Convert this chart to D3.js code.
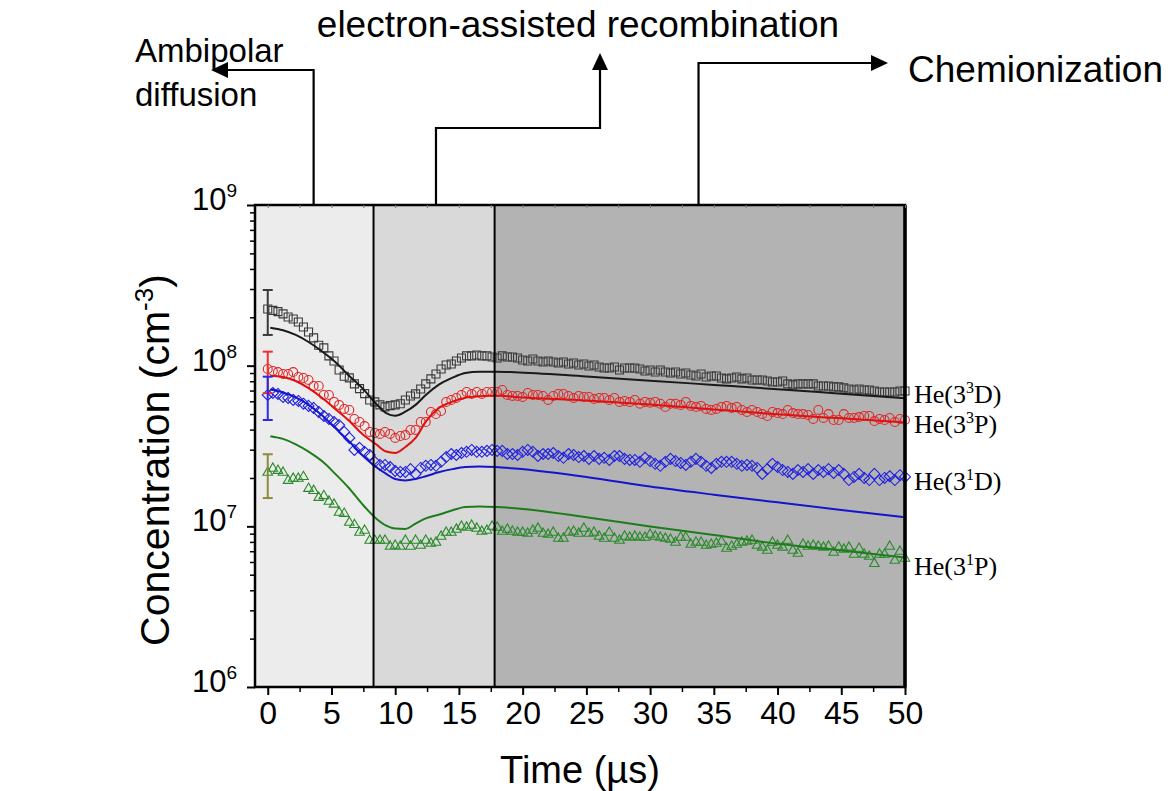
<!DOCTYPE html>
<html lang="en">
<head>
<meta charset="UTF-8">
<title>He excited states</title>
<script src="https://d3js.org/d3.v7.min.js"></script>
<style>
  body { margin: 0; background: #fff; }
  text { font-family: "Liberation Sans", Arial, sans-serif; fill: #000; }
</style>
</head>
<body>
<div id="container"></div>
<script>
const W = 1168, H = 791;
const unit = 1e6;        // all densities below are in 1e6 cm^-3
const tStep = 0.4;       // spacing of the measured points (µs)

// measured points, He(3^3D) squares
const sq3D = [225.4, 221, 217, 210, 201, 195, 187, 174, 162, 149, 134, 129, 115, 107, 94.0, 86, 84, 77, 72, 67, 61.2, 59.5, 57,
  55.4, 56.4, 57.0, 58.0, 61.2, 64.8, 66.7, 71.6, 77.0, 82.7, 88.8, 95.4, 101, 102.5, 107, 111.7, 115, 115, 116.5, 115, 115, 113.2, 111.7, 115, 113.2,
  113.2, 111.7, 108.5, 107, 110.1, 107, 105.5, 107, 105.5, 104, 105.5, 102.5, 104, 101, 102.5, 99.6, 101, 98.2, 96.8, 96.8, 98.2, 94, 96.8, 96.8, 96.8,
  95.4, 92.7, 94, 91.3, 94, 91.3, 90, 91.3, 88.8, 90, 87.5, 86.3, 88.8, 85, 86.3, 86.3, 83.8, 82.7, 83.8, 85, 82.7, 83.8, 81.5, 81.5, 81.5, 80.3,
  79.2, 79.2, 80.3, 77, 75.9, 77, 77, 77, 77, 74.8, 74.8, 74.8, 73.8, 73.8, 72.7, 71.6, 70.6, 71.6, 70.6, 70.6, 69.6, 68.6, 68.6, 68.6, 68.6, 69.6, 69.6];
// He(3^3P) circles
const ci3P = [95.4, 92.7, 91.3, 88.8, 88.8, 91.3, 85.0, 83.8, 81.5, 74.8, 74.8, 65.7, 65.7, 59.5, 57.0, 53.8, 53.0, 46.6, 44.6, 42.1, 38.7, 38.1, 37.6, 38.7,
  37.6, 35.5, 36.5, 37.0, 39.8, 39.8, 44.6, 44.6, 51.5, 50.0, 52.2, 59.5, 61.2, 63.0, 65.7, 68.6, 66.7, 68.6, 66.7, 68.6, 68.6, 68.6, 70.6, 65.7, 64.8,
  64.8, 63.9, 67.6, 65.7, 65.7, 64.8, 61.2, 64.8, 66.7, 66.7, 64.8, 63.0, 64.8, 63.9, 63.9, 62.1, 63.0, 63.0, 61.2, 63.0, 59.5, 60.3, 59.5, 61.2, 58.0,
  59.5, 58.8, 59.5, 58.0, 55.4, 58.0, 58.0, 57.0, 59.5, 56.2, 55.4, 56.2, 53.8, 53.0, 53.8, 55.4, 56.2, 54.6, 55.4, 53.0, 51.5, 53.0, 51.5, 50.0, 48.6, 51.5,
  50.7, 50.0, 53.0, 50.7, 50.0, 50.0, 49.3, 46.6, 53.0, 47.3, 50.0, 45.9, 45.9, 50.0, 47.3, 47.3, 47.9, 48.6, 48.6, 45.2, 46.6, 45.9, 47.3, 44.6, 46.6, 45.9];
// He(3^1D) diamonds
const di1D = [65.7, 67.6, 66.7, 63.9, 63.0, 61.2, 60.3, 58.0, 56.2, 54.6, 51.5, 48.6, 46.6, 44.6, 42.7, 38.7, 35.5, 29.9, 30.8, 29.1, 27.8, 25.2, 24.1, 24.1,
  23.4, 22.1, 21.8, 21.8, 22.7, 21.2, 23.1, 23.8, 24.1, 23.8, 25.2, 27.0, 28.2, 27.8, 28.6, 29.1, 29.9, 29.1, 29.1, 29.5, 29.9, 29.5, 29.5, 28.2, 28.2,
  27.8, 29.1, 29.9, 29.1, 27.4, 28.2, 28.2, 28.6, 27.4, 26.7, 28.2, 27.8, 27.0, 27.4, 26.3, 27.4, 26.3, 26.7, 25.9, 27.4, 27.4, 26.3, 25.9, 25.9, 25.2, 26.7,
  25.5, 24.5, 23.8, 25.2, 26.3, 25.5, 24.8, 24.1, 25.2, 26.3, 25.2, 23.8, 23.1, 24.5, 25.2, 25.2, 25.2, 24.5, 23.8, 24.1, 23.8, 23.1, 21.2, 22.7, 24.5,
  23.4, 22.4, 21.8, 21.2, 22.4, 21.8, 22.7, 21.2, 22.4, 21.8, 22.7, 21.5, 22.4, 21.2, 19.4, 20.3, 21.2, 20.0, 19.4, 21.2, 19.4, 20.0, 20.5, 19.4, 20.8, 20.3];
// He(3^1P) triangles
const tr1P = [21.8, 23.1, 22.4, 21.8, 19.4, 20.0, 20.0, 20.5, 17.3, 16.8, 15.2, 15.6, 14.4, 13.8, 12.3, 12.1, 10.65, 10.3, 9.23, 9.50, 8.23, 8.23, 8.23,
  8.23, 7.55, 7.66, 7.55, 8.23, 7.55, 8.23, 7.66, 8.23, 7.88, 8.0, 8.72, 9.23, 9.23, 9.64, 10.06, 9.92, 10.2, 9.78, 9.36, 9.50, 10.06, 9.92, 9.36, 9.64,
  9.36, 9.23, 9.23, 9.10, 9.50, 9.78, 9.10, 8.97, 9.23, 8.47, 8.47, 9.23, 9.36, 9.10, 9.78, 9.10, 9.23, 8.72, 8.47, 9.23, 8.47, 8.23, 8.72, 8.59, 8.72, 8.59,
  8.59, 8.97, 8.72, 8.59, 8.47, 8.35, 8.0, 8.59, 8.59, 7.77, 8.0, 8.0, 7.66, 7.77, 7.88, 8.11, 7.34, 7.55, 7.77, 8.0, 8.11, 8.23, 7.66, 7.45, 7.13, 8.0,
  7.66, 7.45, 8.23, 7.13, 6.83, 7.77, 7.55, 7.66, 7.55, 7.45, 7.55, 6.93, 7.45, 7.23, 7.45, 6.73, 7.34, 6.73, 6.54, 5.90, 6.73, 6.73, 7.55, 6.18, 7.03, 6.36];

// model curves
const fitTime = [0.2, 1.2, 2.2, 3.2, 4.3, 5.3, 6.4, 7.4, 8.5, 9.3, 10.0, 10.8, 11.6, 12.4, 13.4, 14.5, 15.5, 16.6, 17.9, 19.4, 25, 30, 35, 40, 45, 50];
const fit3D = [172.4, 166.1, 155.3, 140.4, 122.2, 105.4, 86.3, 72.7, 58.0, 50.7, 48.8, 51.7, 57.0, 65.7, 75.9, 84.2, 90.0, 91.7, 91.7, 91.0, 85.6, 80.7, 75.9, 71.4, 66.9, 62.7];
const fit3P = [86.6, 85.0, 80.3, 72.4, 62.7, 53.8, 45.2, 37.7, 32.4, 29.2, 28.6, 31.2, 35.5, 44.8, 54.3, 59.7, 63.2, 64.5, 65.1, 63.9, 60.8, 57.4, 53.4, 49.8, 47.0, 44.4];
const fit1D = [71.1, 68.1, 63.4, 57.0, 48.8, 40.9, 33.7, 27.8, 23.4, 21.2, 19.7, 19.3, 19.7, 20.5, 21.7, 22.7, 23.4, 23.6, 23.4, 22.9, 20.3, 17.7, 15.75, 14.1, 12.65, 11.4];
const fit1P = [36.4, 35.0, 32.4, 29.2, 25.3, 21.2, 17.2, 13.8, 11.2, 10.1, 9.70, 9.64, 10.4, 11.2, 11.8, 12.6, 13.2, 13.3, 13.2, 12.96, 11.4, 9.99, 8.84, 7.80, 7.08, 6.39];

// error bars at t = 0 (low, high)
const errLow  = [155.3, 67.4, 45.9, 15.0];
const errHigh = [295.8, 122.2, 85.4, 28.1];

const labelNames = ["3D", "3P", "1D", "1P"];
const labelAt = [66, 42.7, 18.8, 5.6];

// time windows of the three loss processes
const regionEdges = [-1.0, 8.3, 17.8, 50];
const processes = ["Ambipolar diffusion", "electron-assisted recombination", "Chemionization"];
const arrowAt = [3.6, 13.2, 33.8];

const xTicks = d3.range(0, 51, 5);
const yTicks = [1e6, 1e7, 1e8, 1e9];

// ---- drawing ----
const svg = d3.select("#container").append("svg").attr("width", W).attr("height", H);

const x = d3.scaleLinear().domain([-1.0, 50]).range([255, 905]);
const y = d3.scaleLog().domain([1e6, 1e9]).range([687, 205]);
const yTop = y.range()[1], yBot = y.range()[0];

const bgFill = ["#ececec", "#d9d9d9", "#b3b3b3"];
svg.selectAll("rect.bg").data(bgFill).enter().append("rect")
  .attr("x", (d, i) => x(regionEdges[i]))
  .attr("y", yTop)
  .attr("width", (d, i) => x(regionEdges[i + 1]) - x(regionEdges[i]))
  .attr("height", yBot - yTop)
  .attr("fill", d => d);

const series = [
  {vals: sq3D, fit: fit3D, mark: "#3a3a3a", line: "#1a1a1a", err: "#3a3a3a", shape: "square"},
  {vals: ci3P, fit: fit3P, mark: "#e02828", line: "#e01010", err: "#ee3030", shape: "circle"},
  {vals: di1D, fit: fit1D, mark: "#2222e0", line: "#1515cc", err: "#2a2ae6", shape: "diamond"},
  {vals: tr1P, fit: fit1P, mark: "#2a8a2a", line: "#1d7d1d", err: "#8c8c3a", shape: "triangle"}
];

const shapePath = {
  square: "M-4,-4H4V4H-4Z",
  circle: d3.symbol(d3.symbolCircle, 62)(),
  diamond: "M0,-5.5L5.5,0L0,5.5L-5.5,0Z",
  triangle: "M0,-5L4.8,3.3H-4.8Z"
};

const lineGen = d3.line()
  .x(d => x(d[0]))
  .y(d => y(d[1] * unit))
  .curve(d3.curveMonotoneX);

series.forEach(s => {
  const g = svg.append("g");
  g.selectAll("path.pt").data(s.vals).enter().append("path")
    .attr("d", shapePath[s.shape])
    .attr("transform", (d, i) => `translate(${x(i * tStep)},${y(d * unit)})`)
    .attr("fill", "none")
    .attr("stroke", s.mark)
    .attr("stroke-width", 1.1);
});

series.forEach(s => {
  svg.append("path")
    .datum(fitTime.map((t, i) => [t, s.fit[i]]))
    .attr("d", lineGen)
    .attr("fill", "none")
    .attr("stroke", s.line)
    .attr("stroke-width", 2);
});

// error bars
series.forEach((s, i) => {
  const g = svg.append("g").attr("stroke", s.err).attr("stroke-width", 2);
  const cx = x(0), y0 = y(errLow[i] * unit), y1 = y(errHigh[i] * unit);
  g.append("line").attr("x1", cx).attr("x2", cx).attr("y1", y0).attr("y2", y1);
  g.append("line").attr("x1", cx - 5).attr("x2", cx + 5).attr("y1", y0).attr("y2", y0);
  g.append("line").attr("x1", cx - 5).attr("x2", cx + 5).attr("y1", y1).attr("y2", y1);
});

// separators
svg.selectAll("line.sep").data(regionEdges.slice(1, 3)).enter().append("line")
  .attr("x1", d => x(d)).attr("x2", d => x(d))
  .attr("y1", yTop).attr("y2", yBot)
  .attr("stroke", "#000").attr("stroke-width", 2);

// frame
svg.append("rect")
  .attr("x", x(-1.0)).attr("y", yTop)
  .attr("width", x(50) - x(-1.0)).attr("height", yBot - yTop)
  .attr("fill", "none").attr("stroke", "#000").attr("stroke-width", 2.5);
svg.append("line")
  .attr("x1", x(50)).attr("x2", x(50)).attr("y1", yTop).attr("y2", yBot)
  .attr("stroke", "#000").attr("stroke-width", 3.5);

// x axis
const xAxis = d3.axisBottom(x).tickValues(xTicks).tickSize(8).tickPadding(6).tickFormat(d3.format("d"));
const gx = svg.append("g").attr("transform", `translate(0,${yBot})`).call(xAxis);
gx.select(".domain").remove();
gx.selectAll(".tick line").attr("stroke-width", 2);
gx.selectAll(".tick text")
  .style("font-family", '"Liberation Sans Narrow", "Arial Narrow", sans-serif')
  .style("font-size", "32px").attr("fill", "#000");
const xMinor = d3.axisBottom(x).tickValues(d3.range(2.5, 50, 5)).tickSize(5).tickFormat("");
const gxm = svg.append("g").attr("transform", `translate(0,${yBot})`).call(xMinor);
gxm.select(".domain").remove();
gxm.selectAll(".tick line").attr("stroke-width", 1.5);
const xTopAx = d3.axisBottom(x).tickValues(d3.range(0, 50.1, 2.5)).tickSize(3).tickFormat("");
const gxt = svg.append("g").attr("transform", `translate(0,${yTop})`).call(xTopAx);
gxt.select(".domain").remove();
gxt.selectAll(".tick line").attr("stroke", "#777");

// y axis
const yMinorVals = [];
[1e6, 1e7, 1e8].forEach(dec => { for (let k = 2; k <= 9; k++) yMinorVals.push(dec * k); });
const gy = svg.append("g").attr("transform", `translate(${x(-1.0)},0)`).call(d3.axisLeft(y).tickValues(yTicks).tickSize(8).tickFormat(""));
gy.select(".domain").remove();
gy.selectAll(".tick line").attr("stroke-width", 2);
const gym = svg.append("g").attr("transform", `translate(${x(-1.0)},0)`).call(d3.axisLeft(y).tickValues(yMinorVals).tickSize(5).tickFormat(""));
gym.select(".domain").remove();
gym.selectAll(".tick line").attr("stroke-width", 1.5);

const ylab = svg.selectAll("text.ytl").data(yTicks).enter().append("text")
  .attr("x", 237).attr("y", d => y(d) + 5)
  .attr("text-anchor", "end")
  .style("font-size", "31px");
ylab.append("tspan").text("10");
ylab.append("tspan").attr("dy", -13).style("font-size", "19px").text(d => Math.round(Math.log10(d)));

// axis titles
svg.append("text").attr("x", 580).attr("y", 783).attr("text-anchor", "middle")
  .style("font-size", "38px").text("Time (µs)");
const yt = svg.append("text").attr("transform", "translate(169,460) rotate(-90)")
  .attr("text-anchor", "middle").style("font-size", "41px");
yt.append("tspan").text("Concentration (cm");
yt.append("tspan").attr("dy", -16).style("font-size", "26px").text("-3");
yt.append("tspan").attr("dy", 16).text(")");

// series labels
const sl = svg.selectAll("text.sl").data(labelNames).enter().append("text")
  .attr("x", 914).attr("y", (d, i) => y(labelAt[i] * unit) + 8)
  .style("font-family", '"Liberation Serif", "Times New Roman", serif')
  .style("font-size", "26px");
sl.append("tspan").text("He(3");
sl.append("tspan").attr("dy", -10).style("font-size", "16px").text(d => d[0]);
sl.append("tspan").attr("dy", 10).text(d => d[1] + ")");

// process arrows
const arrowG = svg.append("g").attr("fill", "none").attr("stroke", "#000").attr("stroke-width", 2.2);
arrowG.append("path").attr("d", `M${x(arrowAt[0])},${yTop}V70H226`);
arrowG.append("path").attr("d", `M${x(arrowAt[1])},${yTop}V128H600V69`);
arrowG.append("path").attr("d", `M${x(arrowAt[2])},${yTop}V63H872`);
const heads = svg.append("g").attr("fill", "#000");
heads.append("path").attr("d", "M211,70L228,62V78Z");
heads.append("path").attr("d", "M600,53L592,70H608Z");
heads.append("path").attr("d", "M888,63L871,55V71Z");

svg.append("text").attr("x", 135).attr("y", 62).style("font-size", "33px").text("Ambipolar");
svg.append("text").attr("x", 135).attr("y", 106).style("font-size", "33px").text("diffusion");
svg.append("text").attr("x", 578).attr("y", 37).attr("text-anchor", "middle").style("font-size", "37px").text(processes[1]);
svg.append("text").attr("x", 908).attr("y", 82).style("font-size", "37px").text(processes[2]);
</script>
</body>
</html>
